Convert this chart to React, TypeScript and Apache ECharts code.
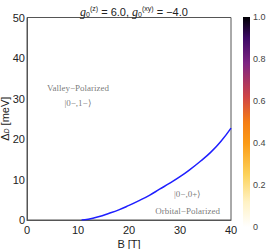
import React, { useEffect, useRef } from "react";
import * as echarts from "echarts";

const bValues = [10.7, 12, 14, 16, 18, 20, 22, 24, 26, 28, 30, 32, 34, 36, 38, 40];
const deltaValues = [0, 0.2, 0.8, 1.6, 2.5, 3.6, 4.8, 6.1, 7.6, 9.1, 10.7, 12.5, 14.5, 16.7, 19.4, 22.7];
const xTicks = [0, 10, 20, 30, 40];
const yTicks = [0, 10, 20, 30, 40, 50];
const cbarTicks = [0, 0.2, 0.4, 0.6, 0.8, 1.0];
const annotations = [
  { b: 10, d: 32.5, text: "Valley−Polarized" },
  { b: 10, d: 28.8, text: "|0−,1−⟩" },
  { b: 31.5, d: 6.4, text: "|0−,0+⟩" },
  { b: 31.5, d: 2.2, text: "Orbital−Polarized" },
];

export default function App() {
  const ref = useRef<HTMLDivElement>(null);
  useEffect(() => {
    if (!ref.current) return;
    const chart = echarts.init(ref.current, undefined, { renderer: "svg" });
    const gL = 27, gT = 17.5, gW = 204, gH = 202.5;
    const cbX = 243, cbT = 17, cbH = 210, cbW = 7;
    const sans = "Liberation Sans";
    const serif = "Liberation Serif";
    chart.setOption({
      animation: false,
      title: {
        text: "{i|g}{sub|0}{sup|(z)} = 6.0, {i|g}{sub|0}{sup|(xy)} = −4.0",
        left: 129,
        textAlign: "center",
        top: 0,
        textStyle: {
          fontFamily: sans,
          fontSize: 11,
          fontWeight: "normal",
          color: "#222",
          rich: {
            i: { fontFamily: serif, fontStyle: "italic", fontSize: 12, color: "#222" },
            sub: { fontFamily: sans, fontSize: 7, color: "#222", padding: [6, 0, 0, 0] },
            sup: { fontFamily: sans, fontSize: 7, color: "#222", padding: [0, 0, 6, 0] },
          },
        },
      },
      grid: [
        {
          left: gL,
          top: gT,
          width: gW,
          height: gH,
          show: true,
          borderColor: "#555",
          borderWidth: 1,
          backgroundColor: "transparent",
          containLabel: false,
          outerBoundsMode: "none",
        },
        {
          left: cbX,
          top: cbT,
          width: cbW,
          height: cbH,
          show: false,
          containLabel: false,
          outerBoundsMode: "none",
        },
      ],
      xAxis: [
        {
          type: "value",
          gridIndex: 0,
          min: 0,
          max: 40,
          interval: 10,
          name: "B [T]",
          nameLocation: "middle",
          nameGap: 18,
          nameMoveOverlap: false,
          nameTextStyle: { fontFamily: sans, fontSize: 11, color: "#222" },
          axisLine: { show: true, lineStyle: { color: "#555" } },
          axisTick: { show: false },
          splitLine: { show: false },
          axisLabel: { fontFamily: sans, fontSize: 11, color: "#222", margin: 4 },
        },
        { type: "value", gridIndex: 1, show: false, min: 0, max: 1 },
      ],
      yAxis: [
        {
          type: "value",
          gridIndex: 0,
          min: 0,
          max: 50,
          interval: 10,
          name: "{a|Δ}{s|D} [meV]",
          nameLocation: "middle",
          nameGap: 17,
          nameRotate: 90,
          nameMoveOverlap: false,
          nameTextStyle: {
            fontFamily: sans,
            fontSize: 11,
            color: "#222",
            rich: {
              a: { fontFamily: sans, fontSize: 11, color: "#222" },
              s: { fontFamily: sans, fontSize: 7, fontStyle: "italic", color: "#222", padding: [3, 0, 0, 0] },
            },
          },
          axisLine: { show: true, lineStyle: { color: "#555" } },
          axisTick: { show: false },
          splitLine: { show: false },
          axisLabel: { fontFamily: sans, fontSize: 11, color: "#222", margin: 2 },
        },
        {
          type: "value",
          gridIndex: 1,
          position: "right",
          min: 0,
          max: 1,
          interval: 0.2,
          axisLine: { show: false },
          axisTick: { show: false },
          splitLine: { show: false },
          axisLabel: {
            fontFamily: sans,
            fontSize: 9,
            color: "#444",
            margin: 3,
            formatter: (v: number) => (v === 0 ? "0" : v.toFixed(1)),
          },
        },
      ],
      series: [
        {
          type: "line",
          data: bValues.map((b, i) => [b, deltaValues[i]]),
          smooth: true,
          showSymbol: false,
          lineStyle: { color: "#1f1fff", width: 1.5 },
        },
        {
          type: "scatter",
          silent: true,
          symbolSize: 1,
          itemStyle: { color: "transparent" },
          data: annotations.map((a) => ({ value: [a.b, a.d], name: a.text })),
          label: {
            show: true,
            position: "inside",
            formatter: (p: any) => p.name,
            fontFamily: serif,
            fontSize: 9,
            color: "#555",
          },
        },
      ],
      graphic: [
        {
          type: "rect",
          shape: { x: cbX, y: cbT, width: cbW, height: cbH },
          style: {
            fill: new echarts.graphic.LinearGradient(0, 1, 0, 0, [
              { offset: 0, color: "#ffffff" },
              { offset: 0.12, color: "#fff2c4" },
              { offset: 0.25, color: "#fcd25a" },
              { offset: 0.4, color: "#fb9a15" },
              { offset: 0.5, color: "#f57d15" },
              { offset: 0.62, color: "#cf4446" },
              { offset: 0.78, color: "#7e2482" },
              { offset: 0.9, color: "#3d0965" },
              { offset: 1, color: "#000004" },
            ]),
          },
        },
      ],
    });
    return () => chart.dispose();
  }, []);
  return (
    <div
      ref={ref}
      style={{ position: "absolute", left: 0, top: 0, width: 266, height: 249, overflow: "hidden" }}
    />
  );
}
